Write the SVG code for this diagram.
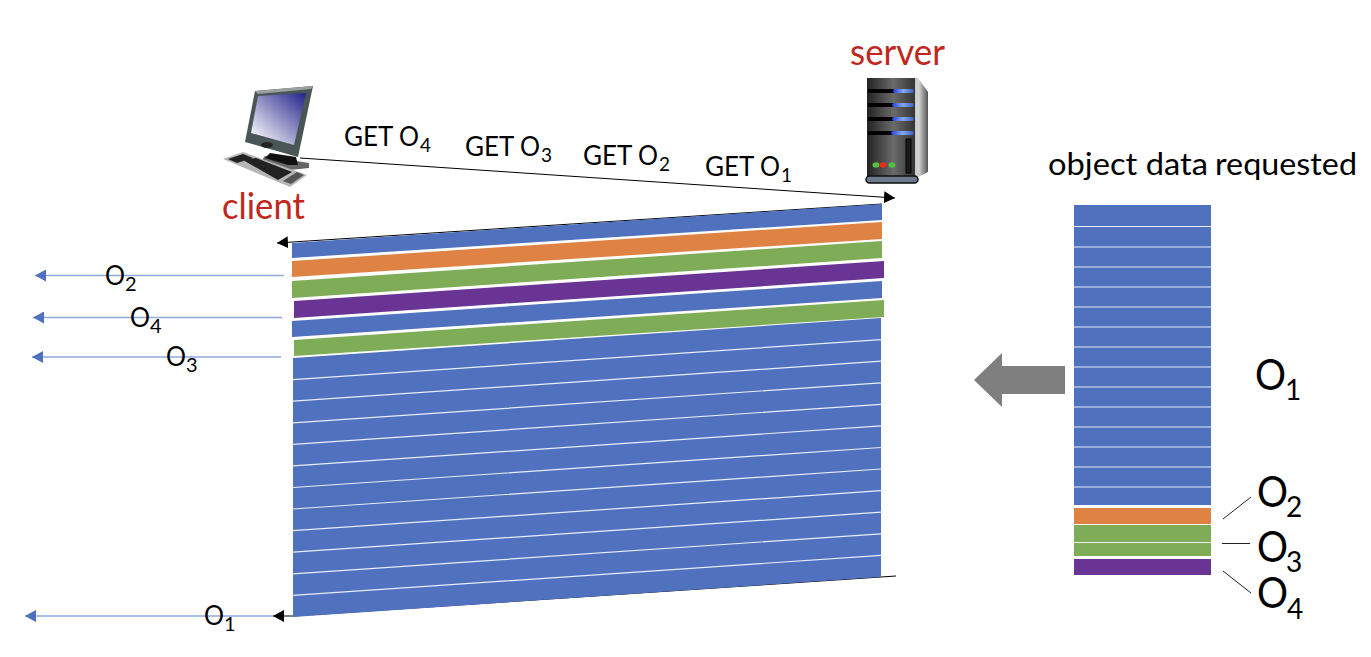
<svg xmlns="http://www.w3.org/2000/svg" width="1371" height="657" viewBox="0 0 1371 657">
<style>
text{font-family:"Lato","Liberation Sans",sans-serif;fill:#000}
.red{fill:#c0281e;font-size:37px}
.g{font-size:26px}
.s{font-size:19px}
.bl{font-size:27px}
.bs{font-size:20px}
.big{font-size:42px}
.bigs{font-size:28px}
.b{fill:#4f71be}.o{fill:#df8344}.gr{fill:#7fac56}.p{fill:#6a3494}
.w{stroke:#e8edf7;stroke-width:1.2;fill:none}
.k{stroke:#000;stroke-width:1;fill:none}
.la{stroke:#8faadc;stroke-width:1.3;fill:none;marker-end:url(#ba)}
.ka{marker-end:url(#ka)}
.lead{stroke:#222;stroke-width:1;fill:none}
</style>
<defs>
<marker id="ba" markerUnits="userSpaceOnUse" markerWidth="12" markerHeight="12" refX="11" refY="6" orient="auto"><path d="M0 0L11 6L0 12Z" fill="#4f71be"/></marker>
<marker id="ka" markerUnits="userSpaceOnUse" markerWidth="12" markerHeight="12" refX="11" refY="6" orient="auto"><path d="M0 0L11 6L0 12Z" fill="#000"/></marker>
<linearGradient id="scr" x1="0" y1="1" x2="1" y2="0"><stop offset="0.1" stop-color="#f4f4f8"/><stop offset="1" stop-color="#20208a"/></linearGradient>
<linearGradient id="srv" x1="0" y1="0" x2="1" y2="0"><stop offset="0" stop-color="#222"/><stop offset="0.55" stop-color="#6a6a6a"/><stop offset="1" stop-color="#333"/></linearGradient>
<linearGradient id="led" x1="0" y1="0" x2="1" y2="0"><stop offset="0" stop-color="#2040e0"/><stop offset="0.5" stop-color="#88a8f0"/><stop offset="1" stop-color="#3a5cc0"/></linearGradient>
<linearGradient id="side" x1="0" y1="0" x2="1" y2="0"><stop offset="0" stop-color="#ddd"/><stop offset="1" stop-color="#555"/></linearGradient>
</defs>

<g id="connectors">
<path class="k ka" d="M300 158L895 198"/>
<path class="k ka" d="M882 204L277 243"/>
<path class="k" d="M896 576L293 616"/>
<path class="k ka" d="M294 616L273 616"/>
<path class="la" d="M284 275.500L35 275.500"/>
<path class="la" d="M282 317.500L33 317.500"/>
<path class="la" d="M281 357L32 357"/>
<path class="la" d="M273 616L25 616"/>
<path class="lead" d="M1223 519L1251 497M1222 543.500L1250 543.500M1223 571L1251 593"/>
</g>

<g id="client">
<path fill="#4a5656" d="M255 91L313 86L298 157L245 142Z"/>
<path fill="#98a0a0" d="M255 91L313 86L311 89L258 94Z"/>
<path fill="url(#scr)" d="M258 96L306 93L294 145L251 133Z"/>
<ellipse cx="267" cy="145" rx="6" ry="3" fill="#222"/>
<path fill="#666" d="M265 156L309 163V168L290 170L262 160Z"/>
<path fill="#111" d="M270 153L296 157L298 165L288 165L265 158Z"/>
<path fill="#b5b5b5" d="M223 159L243 152L307 175L290 187Z"/>
<path fill="#222" d="M228 159L243 154L253 158L237 163ZM243 160L256 158L292 172L278 180Z"/>
<path fill="#555" d="M283 181L297 172L304 175L291 184Z"/>
<text class="red" x="222" y="219"><tspan textLength="83" lengthAdjust="spacingAndGlyphs">client</tspan></text>
</g>

<g id="server">
<rect x="867" y="78" width="48" height="99" fill="url(#srv)"/>
<path fill="url(#side)" d="M918 78L928 92V172L918 177Z"/>
<rect x="915" y="78" width="3" height="99" fill="#ccc"/>
<rect x="868" y="89" width="26" height="4" fill="#000"/><rect x="893" y="89" width="21" height="4" rx="2" fill="url(#led)"/>
<rect x="868" y="103" width="26" height="4" fill="#000"/><rect x="892" y="103" width="22" height="4" rx="2" fill="url(#led)"/>
<rect x="868" y="117" width="26" height="4" fill="#000"/><rect x="892" y="117" width="22" height="4" rx="2" fill="url(#led)"/>
<rect x="868" y="131" width="25" height="4" fill="#000"/><rect x="891" y="131" width="23" height="4" rx="2" fill="url(#led)"/>
<rect x="906" y="139" width="5" height="34" fill="#1a1a1a" stroke="#000"/>
<ellipse cx="876" cy="165" rx="3.500" ry="2.700" fill="#55c040"/>
<ellipse cx="883" cy="165" rx="3.500" ry="2.700" fill="#ee2a20"/>
<ellipse cx="892" cy="165" rx="3.500" ry="2.700" fill="#55c040"/>
<rect x="866" y="176" width="52" height="7" rx="3.500" fill="#6d7a8c" stroke="#111" stroke-width="1.500"/>
<text class="red" x="850" y="65"><tspan textLength="95" lengthAdjust="spacingAndGlyphs">server</tspan></text>
</g>

<g id="get-labels">
<text class="g"><tspan x="344" y="146">GET </tspan><tspan x="399" y="146" textLength="20" lengthAdjust="spacingAndGlyphs">O</tspan><tspan class="s" x="420" y="152">4</tspan></text>
<text class="g"><tspan x="465" y="156">GET </tspan><tspan x="520" y="156" textLength="20" lengthAdjust="spacingAndGlyphs">O</tspan><tspan class="s" x="541" y="162">3</tspan></text>
<text class="g"><tspan x="583" y="165">GET </tspan><tspan x="638" y="165" textLength="20" lengthAdjust="spacingAndGlyphs">O</tspan><tspan class="s" x="659" y="171">2</tspan></text>
<text class="g"><tspan x="705" y="176">GET </tspan><tspan x="760" y="176" textLength="20" lengthAdjust="spacingAndGlyphs">O</tspan><tspan class="s" x="781" y="182">1</tspan></text>
</g>

<g id="sent-stream">
<path class="b" d="M292 243L882 204V220L292 258Z"/>
<path class="o" d="M292 261L882 222V239L292 277Z"/>
<path class="gr" d="M292 281L882 241V258L292 298Z"/>
<path class="p" d="M294 301L884 261V278L294 318Z"/>
<path class="b" d="M292 321L882 281V298L292 337Z"/>
<path class="gr" d="M294 340L884 300V317L294 356Z"/>
<path class="b" d="M293 358L881 318V577L293 617Z"/>
<path class="w" d="M293 379.600L881 339.600M293 401.200L881 361.200M293 422.800L881 382.800M293 444.300L881 404.300M293 465.900L881 425.900M293 487.500L881 447.500M293 509L881 469M293 530.700L881 490.700M293 552.200L881 512.200M293 573.800L881 533.800M293 595.400L881 555.400"/>
</g>

<g id="delivered-labels">
<text class="bl"><tspan x="105" y="285" textLength="20" lengthAdjust="spacingAndGlyphs">O</tspan><tspan class="bs" x="125" y="291">2</tspan></text>
<text class="bl"><tspan x="130" y="327" textLength="20" lengthAdjust="spacingAndGlyphs">O</tspan><tspan class="bs" x="150" y="333">4</tspan></text>
<text class="bl"><tspan x="166" y="366" textLength="20" lengthAdjust="spacingAndGlyphs">O</tspan><tspan class="bs" x="186" y="372">3</tspan></text>
<text class="bl"><tspan x="204" y="625" textLength="20" lengthAdjust="spacingAndGlyphs">O</tspan><tspan class="bs" x="224" y="631">1</tspan></text>
</g>

<g id="grey-arrow"><path fill="#7f7f7f" d="M974 380L1002 353V366H1065V394H1002V407Z"/></g>

<g id="object-column">
<text font-size="31"><tspan x="1048" y="175" textLength="160" lengthAdjust="spacingAndGlyphs">object data</tspan><tspan x="1215" y="175" textLength="142" lengthAdjust="spacingAndGlyphs">requested</tspan></text>
<rect class="b" x="1074" y="205" width="137" height="300"/>
<path class="w" d="M1074 226.500H1211M1074 247H1211M1074 267H1211M1074 287H1211M1074 307H1211M1074 327H1211M1074 347H1211M1074 367H1211M1074 387H1211M1074 407H1211M1074 427H1211M1074 447H1211M1074 467H1211M1074 487H1211"/>
<rect class="o" x="1074" y="508" width="137" height="16"/>
<rect class="gr" x="1074" y="525" width="137" height="31"/>
<path class="w" d="M1074 542.500H1211"/>
<rect class="p" x="1074" y="559" width="137" height="16"/>
<text class="big"><tspan x="1255" y="390" textLength="31" lengthAdjust="spacingAndGlyphs">O</tspan><tspan class="bigs" x="1285" y="400">1</tspan></text>
<text class="big"><tspan x="1257" y="507" textLength="31" lengthAdjust="spacingAndGlyphs">O</tspan><tspan class="bigs" x="1286" y="517">2</tspan></text>
<text class="big"><tspan x="1257" y="562" textLength="31" lengthAdjust="spacingAndGlyphs">O</tspan><tspan class="bigs" x="1286" y="572">3</tspan></text>
<text class="big"><tspan x="1257" y="608" textLength="31" lengthAdjust="spacingAndGlyphs">O</tspan><tspan class="bigs" x="1287" y="619">4</tspan></text>
</g>
</svg>
